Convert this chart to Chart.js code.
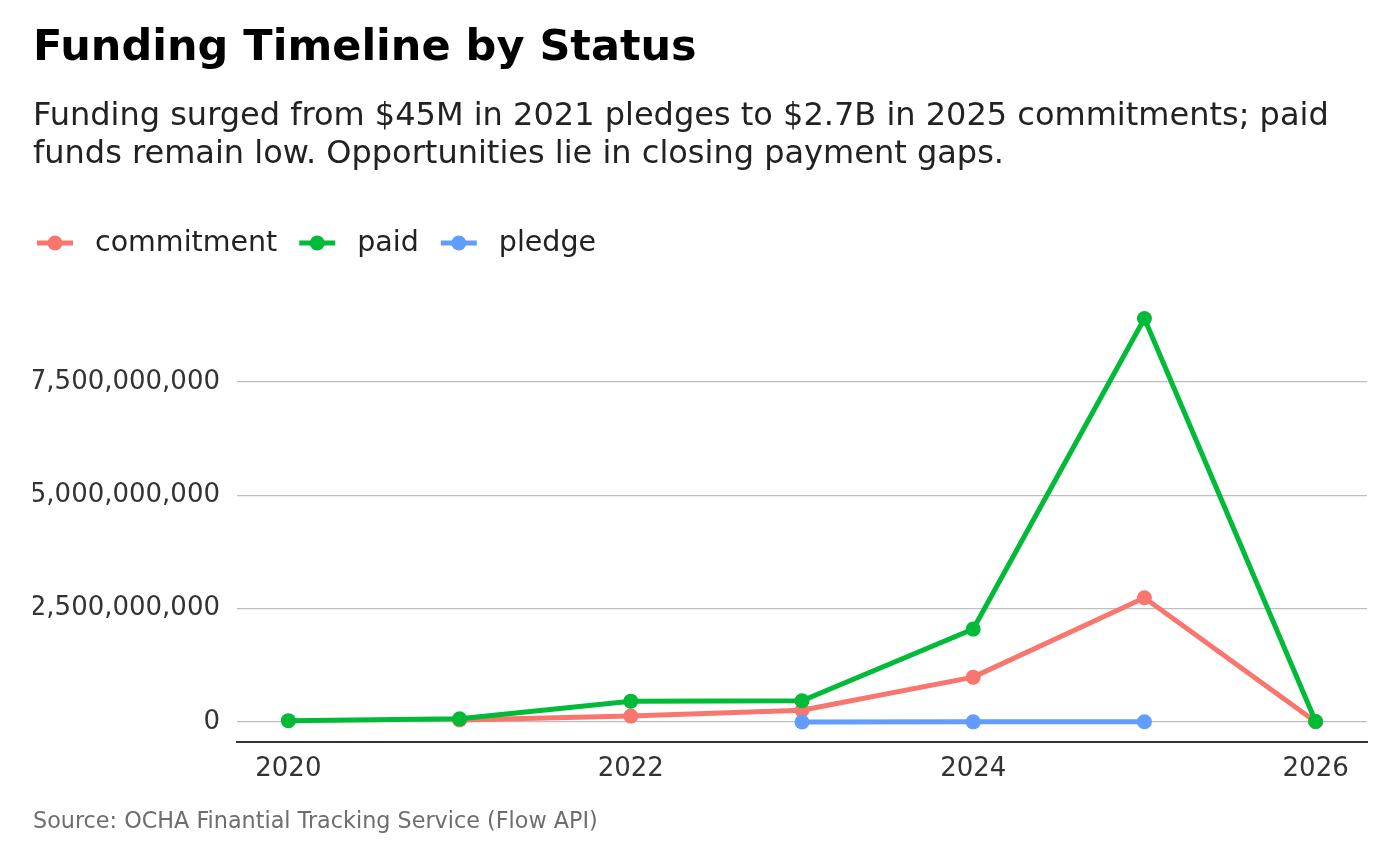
<!DOCTYPE html>
<html>
<head>
<meta charset="utf-8">
<script src="https://cdn.jsdelivr.net/npm/chart.js@4/dist/chart.umd.min.js"></script>
<style>
  html, body { margin: 0; padding: 0; background: #fff; }
  #wrap { width: 1400px; height: 866px; }
</style>
</head>
<body>
<div id="wrap"><canvas id="fundingChart" width="1400" height="866"></canvas></div>
<script>
// values (USD)
const years = [2020, 2021, 2022, 2023, 2024, 2025, 2026];
const commitment = [null, 45e6, 130e6, 260e6, 990e6, 2740e6, 5e6];
const paid = [30e6, 70e6, 460e6, 470e6, 2050e6, 8900e6, 10e6];
const pledge = [null, null, null, 1e6, 3e6, 5e6, null];
const seriesNames = ["commitment", "paid", "pledge"];
const seriesColors = ["#F8766D", "#00BA38", "#619CFF"];
const xTicks = [2020, 2022, 2024, 2026];
const yTicks = [0, 2.5e9, 5e9, 7.5e9];

const FONT = "'DejaVu Sans', sans-serif";
Chart.defaults.font.family = FONT;

function points(values) {
    return years.map(function (y, i) { return { x: y, y: values[i] }; });
}

// legend drawn by hand so spacing matches the ggplot-style key
const keyLegend = {
    id: "keyLegend",
    afterDraw: function (chart) {
        const ctx = chart.ctx;
        const y = 243;
        let x = 37;
        ctx.save();
        ctx.font = "28.5px " + FONT;
        ctx.textBaseline = "middle";
        chart.data.datasets.forEach(function (ds) {
            ctx.strokeStyle = ds.borderColor;
            ctx.lineWidth = 5;
            ctx.beginPath();
            ctx.moveTo(x, y);
            ctx.lineTo(x + 36, y);
            ctx.stroke();
            ctx.fillStyle = ds.borderColor;
            ctx.beginPath();
            ctx.arc(x + 18, y, 7.5, 0, Math.PI * 2);
            ctx.fill();
            ctx.fillStyle = "#222";
            ctx.fillText(ds.label, x + 58, y + 1);
            x += 58 + ctx.measureText(ds.label).width + 22;
        });
        ctx.restore();
    }
};

const caption = {
    id: "caption",
    afterDraw: function (chart) {
        const ctx = chart.ctx;
        ctx.save();
        ctx.font = "22.3px " + FONT;
        ctx.fillStyle = "#6e6e6e";
        ctx.textBaseline = "middle";
        ctx.fillText("Source: OCHA Finantial Tracking Service (Flow API)", 33, 822);
        ctx.restore();
    }
};

const datasets = [commitment, paid, pledge].map(function (vals, i) {
    return {
        label: seriesNames[i],
        data: points(vals),
        borderColor: seriesColors[i],
        backgroundColor: seriesColors[i],
        borderWidth: 5,
        pointRadius: 7.5,
        pointHoverRadius: 7.5,
        pointBorderWidth: 0,
        spanGaps: false,
        tension: 0,
        order: 3 - i
    };
});

new Chart(document.getElementById("fundingChart"), {
    type: "line",
    data: { datasets: datasets },
    plugins: [keyLegend, caption],
    options: {
        responsive: false,
        animation: false,
        devicePixelRatio: 1,
        layout: { padding: { left: 33, right: 33, top: 0, bottom: 0 } },
        plugins: {
            legend: { display: false },
            tooltip: { enabled: false },
            title: {
                display: true,
                text: "Funding Timeline by Status",
                align: "start",
                color: "#000",
                font: { size: 43, weight: "bold", lineHeight: 1.2 },
                padding: { top: 23, bottom: 23.4 }
            },
            subtitle: {
                display: true,
                text: [
                    "Funding surged from $45M in 2021 pledges to $2.7B in 2025 commitments; paid",
                    "funds remain low. Opportunities lie in closing payment gaps."
                ],
                align: "start",
                color: "#222",
                font: { size: 32, lineHeight: 1.1875 },
                padding: { top: 0, bottom: 124 }
            }
        },
        scales: {
            x: {
                type: "linear",
                min: 2019.7,
                max: 2026.3,
                afterBuildTicks: function (scale) {
                    scale.ticks = xTicks.map(function (v) { return { value: v }; });
                },
                afterFit: function (scale) { scale.height = 124; },
                grid: { display: false, drawTicks: false },
                border: { display: true, color: "#333", width: 2 },
                ticks: {
                    color: "#333",
                    font: { size: 26 },
                    padding: 12,
                    maxRotation: 0,
                    callback: function (v) { return String(v); }
                }
            },
            y: {
                min: -0.441e9,
                max: 9.353e9,
                afterBuildTicks: function (scale) {
                    scale.ticks = yTicks.map(function (v) { return { value: v }; });
                },
                afterFit: function (scale) { scale.width = 204; },
                grid: { color: "#bebebe", lineWidth: 1.2, drawTicks: false },
                border: { display: false },
                ticks: {
                    color: "#333",
                    font: { size: 26 },
                    padding: 17,
                    callback: function (v) { return Number(v).toLocaleString("en-US"); }
                }
            }
        }
    }
});
</script>
</body>
</html>
